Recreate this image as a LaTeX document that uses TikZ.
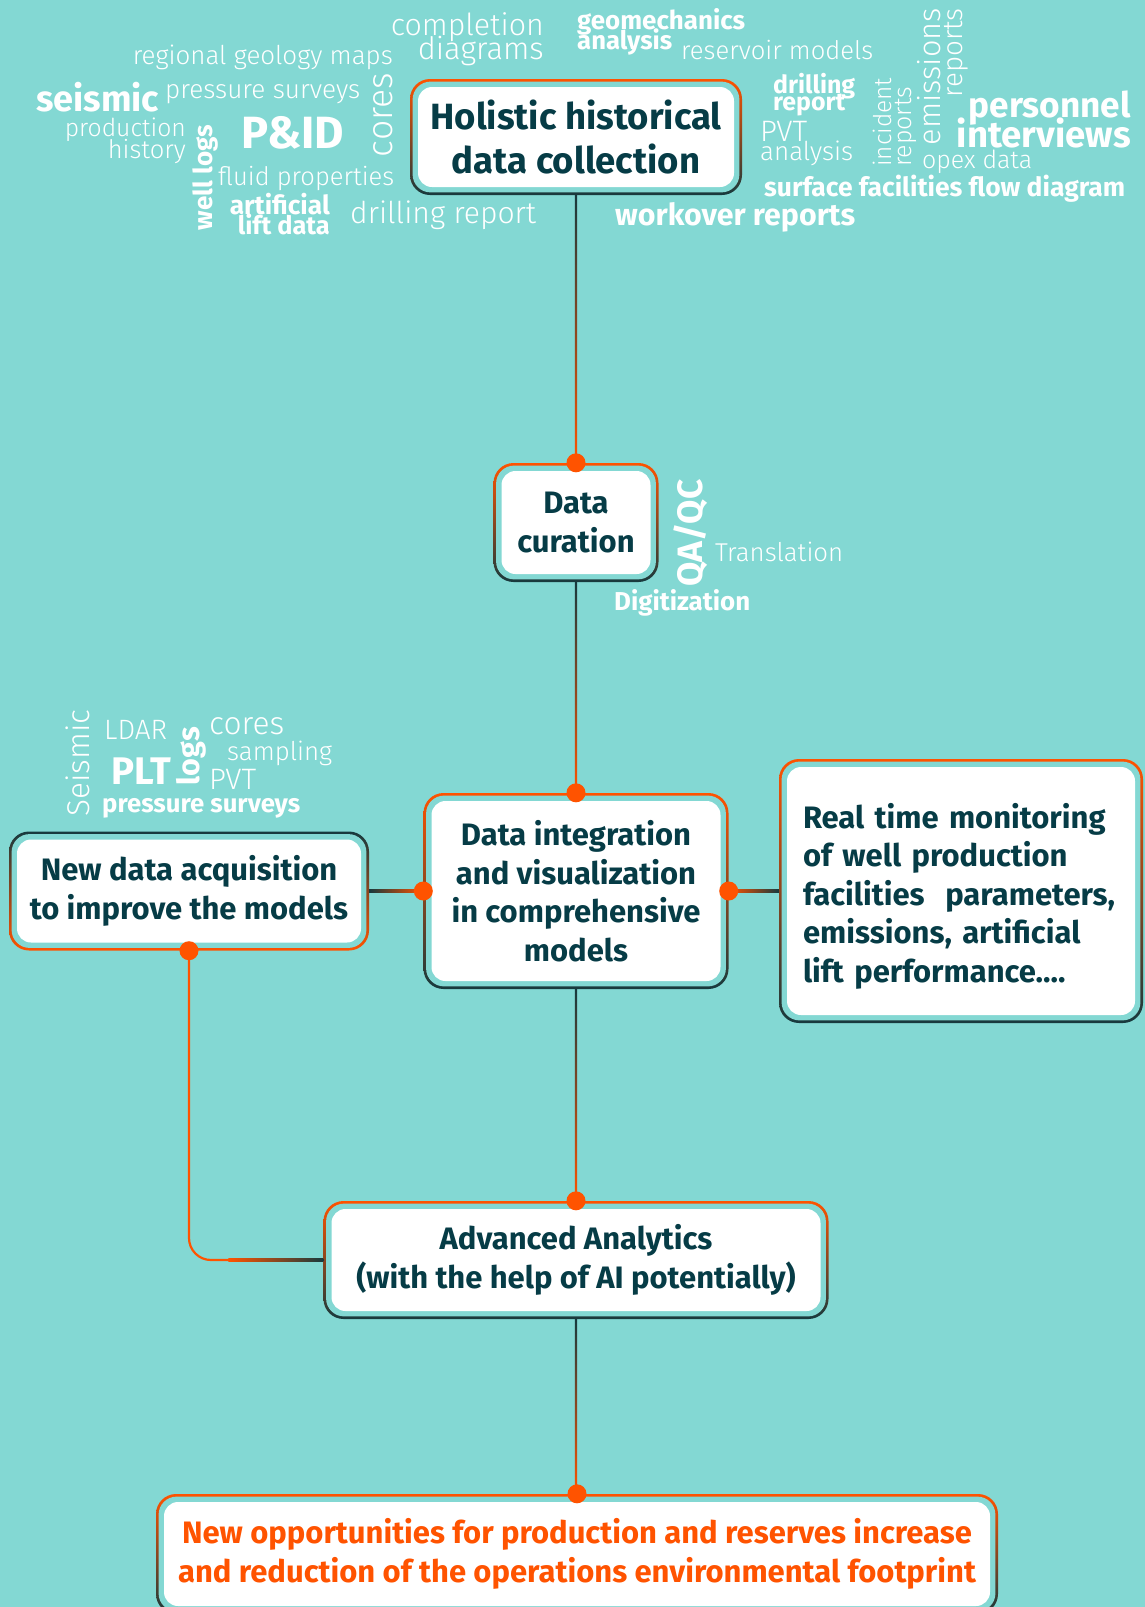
\documentclass[tikz,border=0pt]{standalone}
\usepackage{fontspec}
\setmainfont{Fira Sans}
\newfontfamily\lightface{Fira Sans Light}
\usetikzlibrary{calc}
\definecolor{bgc}{HTML}{83D8D3}
\definecolor{ink}{HTML}{063C46}
\definecolor{org}{HTML}{FF5300}
\definecolor{dk}{HTML}{173A3E}
% scale a word of the cloud to a given width
\newcommand\fitw[2]{\resizebox{#1}{!}{#2\vphantom{lg}}}
\begin{document}
\begin{tikzpicture}[x=1pt,y=-1pt,
  panel/.style={rounded corners=20pt, inner sep=0pt, align=center, text=ink,
    path picture={
      \fill[bgc, rounded corners=18pt]
        ([shift={(2.6pt,2.6pt)}]path picture bounding box.south west) rectangle
        ([shift={(-2.6pt,-2.6pt)}]path picture bounding box.north east);
      \fill[white, rounded corners=14pt]
        ([shift={(8pt,8pt)}]path picture bounding box.south west) rectangle
        ([shift={(-8pt,-8pt)}]path picture bounding box.north east);
    }},
  warm/.style={panel, top color=org, bottom color=dk},
  cool/.style={panel, top color=dk, bottom color=org},
  boxfont/.style={font={\fontsize{31}{38.5}\selectfont\bfseries}},
  cl/.style={text=white, inner sep=0pt},
  vlink/.style={top color=dk, bottom color=org},
  dot/.style={fill=org},
]
\fill[bgc] (0,0) rectangle (1145,1607);
\useasboundingbox (0,0) rectangle (1145,1607);

% ---- process boxes ----
\node[warm, minimum width=332pt, minimum height=116pt,
      font={\fontsize{36.5}{44}\selectfont\bfseries}] (hol) at (576,137)
  {Holistic historical\\data collection};
\node[warm, boxfont, minimum width=165pt, minimum height=119pt] (cur) at (576,522.5)
  {Data\\curation};
\node[warm, boxfont, minimum width=305pt, minimum height=196pt] (di) at (576,891)
  {Data integration\\and visualization\\in comprehensive\\models};
\node[cool, boxfont, minimum width=360pt, minimum height=119pt] (nda) at (189,891)
  {New data acquisition\\to improve the models};
\node[warm, minimum width=364pt, minimum height=264pt] (rt) at (961,891) {};
\node[boxfont, text=ink, inner sep=0pt, text width=316pt, align=left] (rttext)
  at ($(rt.center)+(0,5)$)
  {Real time monitoring\\of well production\\facilities\ \ parameters,\\emissions, artificial\\lift performance....};
\node[warm, boxfont, minimum width=505pt, minimum height=118pt] (aa) at (576,1260)
  {Advanced Analytics\\(with the help of AI potentially)};
\node[warm, boxfont, text=org, minimum width=842pt, minimum height=120pt] (no) at (577,1554)
  {New opportunities for production and reserves increase\\and reduction of the operations environmental footprint};

% ---- connectors ----
\foreach \a/\b in {hol/cur, cur/di, di/aa, aa/no}
  \shade[vlink] ($(\a.south)+(-1.1pt,0)$) rectangle ($(\a.south |- \b.north)+(1.1pt,0)$);
\shade[left color=dk, right color=org] ($(nda.east)+(0,-1.1pt)$) rectangle ($(nda.east -| di.west)+(0,1.1pt)$);
\shade[left color=org, right color=dk] ($(di.east)+(0,-1.1pt)$) rectangle ($(di.east -| rt.west)+(0,1.1pt)$);
\draw[org, line width=2.2pt, rounded corners=22pt] (nda.south) |- (aa.west);
\shade[left color=org, right color=dk] ($(aa.west)+(-95pt,-1.1pt)$) rectangle ($(aa.west)+(0,1.1pt)$);

\foreach \p in {cur.north, di.north, di.west, di.east, nda.south, aa.north, no.north}
  \fill[dot] (\p) circle (9.5pt);

% ---- sources around the collection box ----
\node[cl, anchor=east] at (544,27) {\fitw{153pt}{\lightface completion}};
\node[cl, anchor=east] at (544,51) {\fitw{126pt}{\lightface diagrams}};
\node[cl, anchor=east] at (393,57) {\fitw{260pt}{\lightface regional geology maps}};
\node[cl, anchor=west] at (577,22) {\fitw{168pt}{\bfseries geomechanics}};
\node[cl, anchor=west] at (577,42) {\fitw{95pt}{\bfseries analysis}};
\node[cl, anchor=west] at (681,52) {\fitw{192pt}{\lightface reservoir models}};
\node[cl, anchor=west] at (36,101) {\fitw{123pt}{\bfseries seismic}};
\node[cl, anchor=west] at (165,91) {\fitw{195pt}{\lightface pressure surveys}};
\node[cl, rotate=90] at (383,115) {\fitw{84pt}{\lightface cores}};
\node[cl, anchor=east] at (186,130) {\fitw{121pt}{\lightface production}};
\node[cl, anchor=east] at (186,152) {\fitw{78pt}{\lightface history}};
\node[cl, rotate=90] at (205.5,177.5) {\fitw{105pt}{\bfseries well logs}};
\node[cl] at (293,136) {\fitw{102pt}{\bfseries P\&ID}};
\node[cl, anchor=west] at (218,178) {\fitw{176pt}{\lightface fluid properties}};
\node[cl, anchor=east] at (330,207) {\fitw{100pt}{\bfseries artificial}};
\node[cl, anchor=east] at (330,227) {\fitw{92pt}{\bfseries lift data}};
\node[cl, anchor=west] at (350,215) {\fitw{186pt}{\lightface drilling report}};
\node[cl, anchor=west] at (773,86) {\fitw{82pt}{\bfseries drilling}};
\node[cl, anchor=west] at (773,104) {\fitw{72pt}{\bfseries report}};
\node[cl, anchor=west] at (760,134) {\fitw{47pt}{\lightface PVT}};
\node[cl, anchor=west] at (760,153) {\fitw{93pt}{\lightface analysis}};
\node[cl, rotate=90, anchor=west] at (885,167) {\fitw{89pt}{\lightface incident}};
\node[cl, rotate=90, anchor=west] at (905,167) {\fitw{80pt}{\lightface reports}};
\node[cl, rotate=90, anchor=east] at (932,8) {\fitw{137pt}{\lightface emissions}};
\node[cl, rotate=90, anchor=east] at (955,8) {\fitw{89pt}{\lightface reports}};
\node[cl, anchor=east] at (1131,108) {\fitw{162pt}{\bfseries personnel}};
\node[cl, anchor=east] at (1131,137) {\fitw{174pt}{\bfseries interviews}};
\node[cl, anchor=west] at (922,162) {\fitw{110pt}{\lightface opex data}};
\node[cl, anchor=west] at (764,189) {\fitw{361pt}{\bfseries surface facilities flow diagram}};
\node[cl, anchor=west] at (615,217) {\fitw{240pt}{\bfseries workover reports}};

% ---- curation tasks ----
\node[cl, rotate=90] at (692,533) {\fitw{107pt}{\bfseries QA/QC}};
\node[cl, anchor=west] at (715,554) {\fitw{128pt}{\lightface Translation}};
\node[cl, anchor=west] at (614,603) {\fitw{136pt}{\bfseries Digitization}};

% ---- acquisition methods ----
\node[cl, rotate=90] at (81,763) {\fitw{107pt}{\lightface Seismic}};
\node[cl, anchor=west] at (104,732) {\fitw{63pt}{\lightface LDAR}};
\node[cl, rotate=90] at (191,756) {\fitw{58pt}{\bfseries logs}};
\node[cl, anchor=west] at (209,726) {\fitw{75pt}{\lightface cores}};
\node[cl, anchor=west] at (227,753) {\fitw{105pt}{\lightface sampling}};
\node[cl, anchor=west] at (111,774) {\fitw{60pt}{\bfseries PLT}};
\node[cl, anchor=west] at (209,782) {\fitw{47pt}{\lightface PVT}};
\node[cl, anchor=west] at (102,806) {\fitw{198pt}{\bfseries pressure surveys}};
\end{tikzpicture}
\end{document}
